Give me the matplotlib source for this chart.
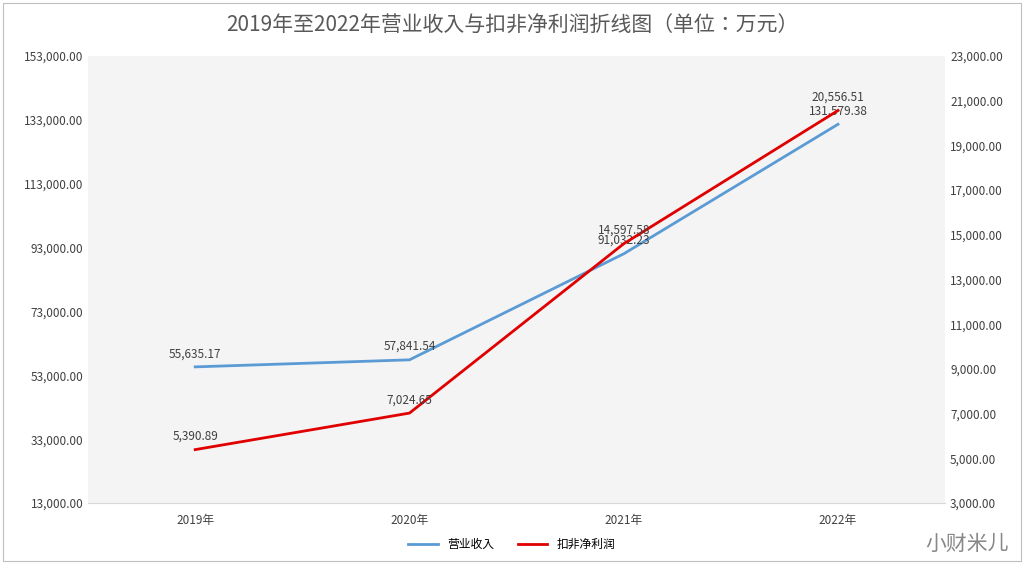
import matplotlib
matplotlib.use("Agg")
import matplotlib.pyplot as plt
from matplotlib import font_manager as fm
from matplotlib.patches import Rectangle
import glob

cjk = None
for f in fm.fontManager.ttflist:
    if "CJK" in f.name and ("SC" in f.name or cjk is None):
        cjk = f.name
if cjk is None:
    for p in glob.glob("/usr/share/fonts/**/*CJK*", recursive=True):
        try:
            fm.fontManager.addfont(p)
        except Exception:
            pass
    for f in fm.fontManager.ttflist:
        if "CJK" in f.name:
            cjk = f.name
            break
plt.rcParams["font.family"] = [cjk or "Noto Sans CJK SC", "DejaVu Sans"]

categories = ["2019年", "2020年", "2021年", "2022年"]
revenue = [55635.17, 57841.54, 91032.23, 131579.38]
profit = [5390.89, 7024.65, 14597.58, 20556.51]
left_ticks = [13000, 33000, 53000, 73000, 93000, 113000, 133000, 153000]
right_ticks = [3000, 5000, 7000, 9000, 11000, 13000, 15000, 17000, 19000, 21000, 23000]

fig = plt.figure(figsize=(10.24, 5.64), dpi=100)
fig.patches.append(Rectangle((0.003, 0.005), 0.994, 0.99, transform=fig.transFigure,
                             fill=False, edgecolor="#bfbfbf", lw=0.8))
ax = fig.add_axes([0.086, 0.108, 0.837, 0.793])
ax.set_facecolor("#f4f4f4")
ax2 = ax.twinx()
x = list(range(len(categories)))
blue, red = "#5b9bd5", "#e00000"
l1, = ax.plot(x, revenue, color=blue, lw=2, label="营业收入")
l2, = ax2.plot(x, profit, color=red, lw=2, label="扣非净利润")
ax.set_xlim(-0.5, 3.5)
ax.set_ylim(13000, 153000)
ax2.set_ylim(3000, 23000)
ax.set_yticks(left_ticks)
ax2.set_yticks(right_ticks)
ax.set_yticklabels([f"{v:,.2f}" for v in left_ticks])
ax2.set_yticklabels([f"{v:,.2f}" for v in right_ticks])
ax.set_xticks(x)
ax.set_xticklabels(categories)
for a in (ax, ax2):
    a.tick_params(length=0, labelsize=8.5, colors="#404040")
    for s in a.spines.values():
        s.set_visible(False)
ax.spines["bottom"].set_visible(True)
ax.spines["bottom"].set_color("#d9d9d9")
ax.tick_params(axis="x", pad=8)
for xi, v in zip(x, revenue):
    ax.annotate(f"{v:,.2f}", (xi, v), xytext=(0, 7), textcoords="offset points",
                ha="center", fontsize=8.5, color="#404040")
for xi, v in zip(x, profit):
    ax2.annotate(f"{v:,.2f}", (xi, v), xytext=(0, 7), textcoords="offset points",
                 ha="center", fontsize=8.5, color="#404040")
fig.text(0.5, 0.955, "2019年至2022年营业收入与扣非净利润折线图（单位：万元）",
         ha="center", va="center", fontsize=15, color="#595959")
fig.legend(handles=[l1, l2], loc="center", bbox_to_anchor=(0.5, 0.035), ncol=2,
           frameon=False, fontsize=8.5, handlelength=2.5)
fig.text(0.985, 0.035, "小财米儿", ha="right", va="center", fontsize=15, color="#888888")
fig.savefig("out.png", dpi=100)
